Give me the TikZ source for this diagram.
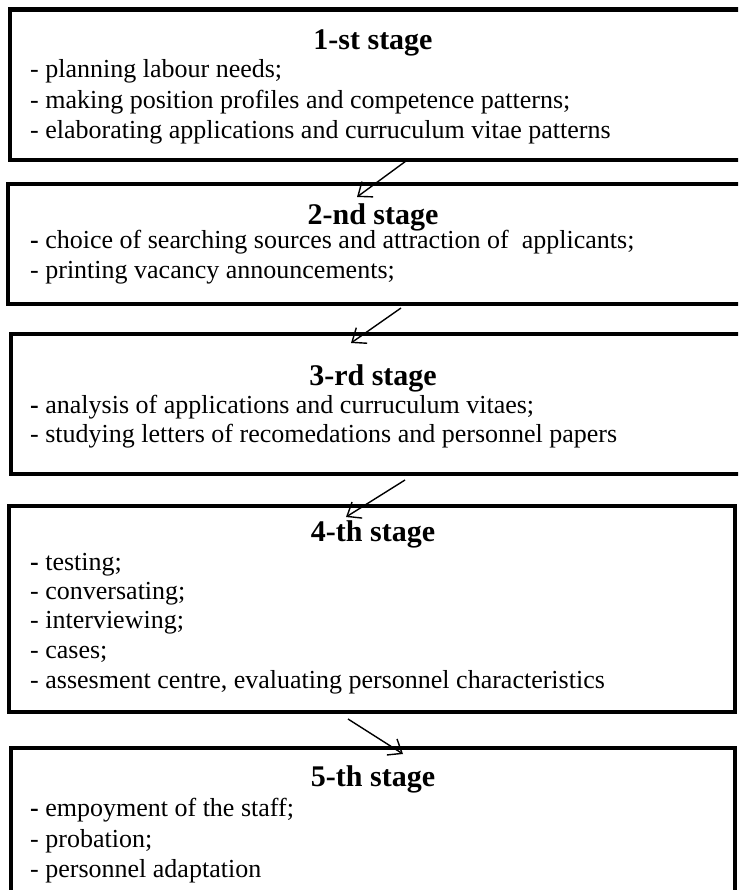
\documentclass[tikz,border=0pt]{standalone}
\usepackage{fontspec}
\setmainfont{Liberation Serif}
\usetikzlibrary{arrows.meta}
\tikzset{
  stagebox/.style={draw=black, line width=4.5pt, rectangle, inner sep=0pt, line join=miter},
  stagetitle/.style={inner sep=0pt, anchor=base, font=\fontsize{30}{34}\selectfont\bfseries},
  stageitem/.style={inner sep=0pt, anchor=base west, font=\fontsize{26}{30}\selectfont},
  stagearrow/.style={draw=black, line width=1.4pt, -{Straight Barb[length=12pt,width=19pt,line width=1.4pt]}}
}
\begin{document}
\begin{tikzpicture}[x=1pt,y=-1pt]
\useasboundingbox (0,0) rectangle (738,890);
\clip (0,0) rectangle (738,890);
\fill[white] (0,0) rectangle (738,890);

% boxes
\node[stagebox, minimum width=762pt, minimum height=150.5pt] (b1) at (391,84.75) {};
\node[stagebox, minimum width=764pt, minimum height=120pt] (b2) at (390,244) {};
\node[stagebox, minimum width=761pt, minimum height=140pt] (b3) at (391.5,404) {};
\node[stagebox, minimum width=726pt, minimum height=206pt] (b4) at (372,609) {};
\node[stagebox, minimum width=724pt, minimum height=144pt] (b5) at (373,820) {};

% stage 1
\node[stagetitle] (t1) at (373,50) {1-st stage};
\node[stageitem] (l11) at (30,78) {- planning labour needs;};
\node[stageitem] (l12) at (30,109) {- making position profiles and competence patterns;};
\node[stageitem] (l13) at (30,139) {- elaborating applications and curruculum vitae patterns};

% stage 2
\node[stagetitle] (t2) at (373,225) {2-nd stage};
\node[stageitem] (l21) at (30,249) {\textbf{-} choice of searching sources and attraction of\ \ applicants;};
\node[stageitem] (l22) at (30,278) {- printing vacancy announcements;};

% stage 3
\node[stagetitle] (t3) at (373,385) {3-rd stage};
\node[stageitem] (l31) at (30,413) {\textbf{-} analysis of applications and curruculum vitaes;};
\node[stageitem] (l32) at (30,442) {- studying letters of recomedations and personnel papers};

% stage 4
\node[stagetitle] (t4) at (373,541) {4-th stage};
\node[stageitem] (l41) at (30,570) {\textbf{-} testing;};
\node[stageitem] (l42) at (30,599) {- conversating;};
\node[stageitem] (l43) at (30,628) {- interviewing;};
\node[stageitem] (l44) at (30,658) {- cases;};
\node[stageitem] (l45) at (30,688) {- assesment centre, evaluating personnel characteristics};

% stage 5
\node[stagetitle] (t5) at (373,786) {5-th stage};
\node[stageitem] (l51) at (30,816) {\textbf{-} empoyment of the staff;};
\node[stageitem] (l52) at (30,847) {- probation;};
\node[stageitem] (l53) at (30,877) {- personnel adaptation};

% connectors
\coordinate (s1) at (406,161);
\coordinate (e1) at (357,197);
\coordinate (s2) at (401,308);
\coordinate (e2) at (351,343);
\coordinate (s3) at (405,480);
\coordinate (e3) at (346,517);
\coordinate (s4) at (348,719);
\coordinate (e4) at (403,754);
\draw[stagearrow] (s1) -- (e1);
\draw[stagearrow] (s2) -- (e2);
\draw[stagearrow] (s3) -- (e3);
\draw[stagearrow] (s4) -- (e4);
\end{tikzpicture}
\end{document}
